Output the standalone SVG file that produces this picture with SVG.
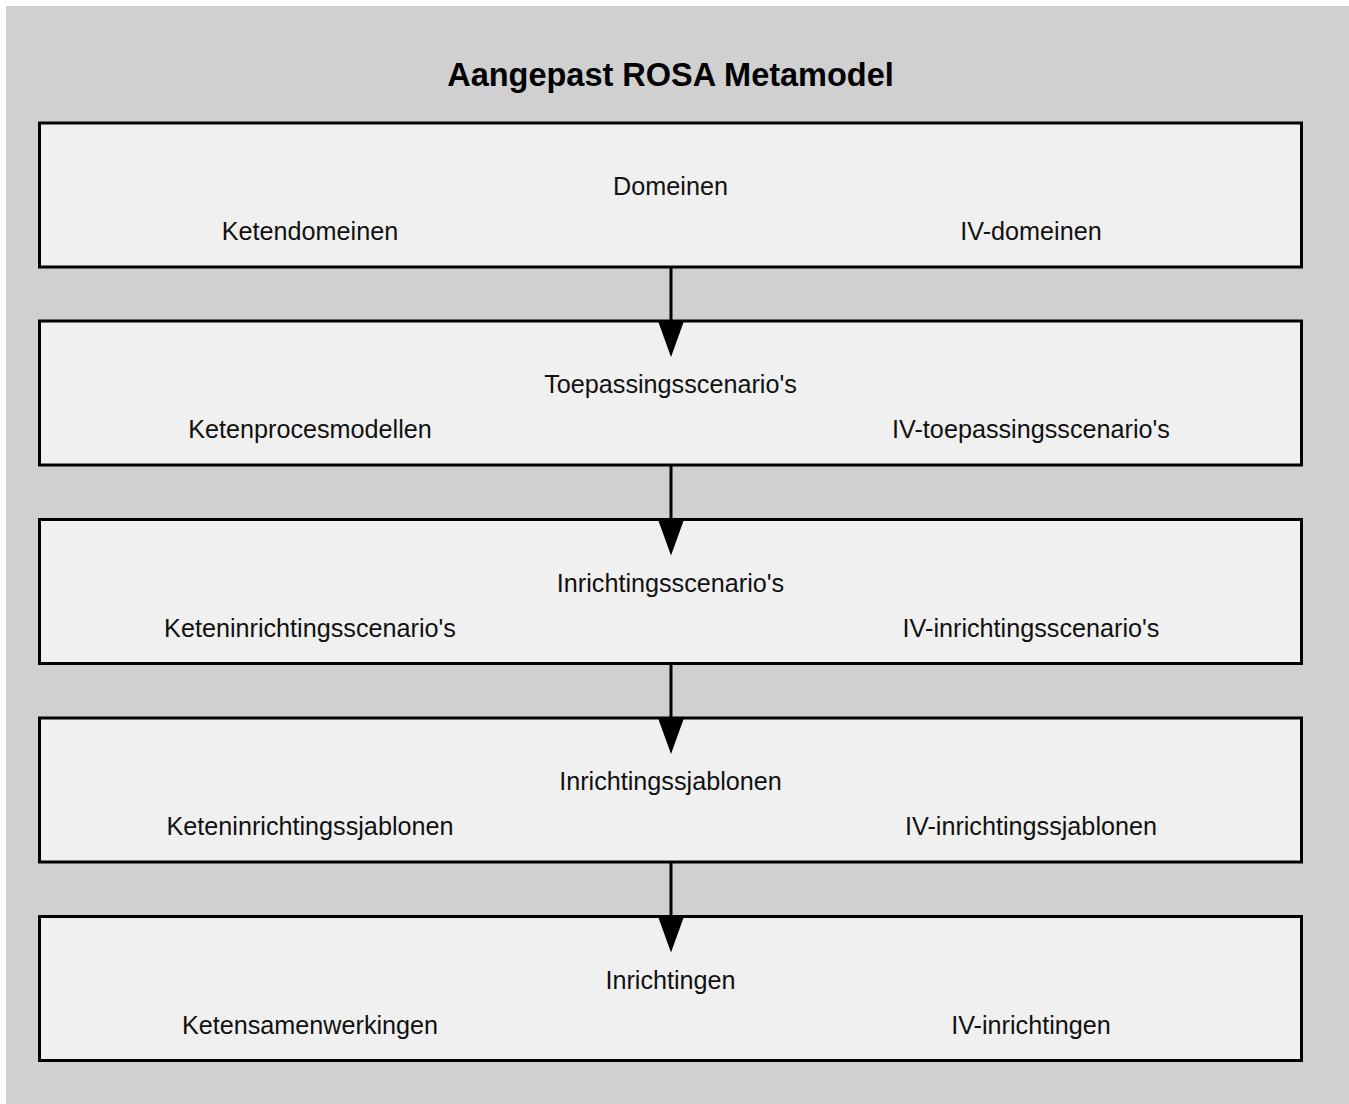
<svg xmlns="http://www.w3.org/2000/svg" width="1349" height="1104" viewBox="0 0 1349 1104">
<style>
.box{fill:#f0f0f0;stroke:#000;stroke-width:3}
.t{font-family:"Liberation Sans",Arial,sans-serif;font-size:25.2px;fill:#111;text-anchor:middle}
.title{font-family:"Liberation Sans",Arial,sans-serif;font-size:32.5px;font-weight:bold;fill:#000;text-anchor:middle}
.conn{stroke:#000;stroke-width:3;fill:none}
</style>
<rect x="0" y="0" width="1349" height="1104" fill="#ffffff"/>
<rect x="6" y="6" width="1343" height="1098" fill="#d0d0d0"/>
<text class="title" x="670.5" y="86">Aangepast ROSA Metamodel</text>
<g id="n1">
<rect class="box" x="39.5" y="123" width="1262" height="144"/>
<text class="t" x="670.5" y="195">Domeinen</text>
<text class="t" x="310" y="240">Ketendomeinen</text>
<text class="t" x="1031" y="240">IV-domeinen</text>
</g>
<g id="n2">
<rect class="box" x="39.5" y="321" width="1262" height="144"/>
<text class="t" x="670.5" y="393">Toepassingsscenario's</text>
<text class="t" x="310" y="438">Ketenprocesmodellen</text>
<text class="t" x="1031" y="438">IV-toepassingsscenario's</text>
</g>
<g id="n3">
<rect class="box" x="39.5" y="519.5" width="1262" height="144"/>
<text class="t" x="670.5" y="591.5">Inrichtingsscenario's</text>
<text class="t" x="310" y="636.5">Keteninrichtingsscenario's</text>
<text class="t" x="1031" y="636.5">IV-inrichtingsscenario's</text>
</g>
<g id="n4">
<rect class="box" x="39.5" y="718" width="1262" height="144"/>
<text class="t" x="670.5" y="790">Inrichtingssjablonen</text>
<text class="t" x="310" y="835">Keteninrichtingssjablonen</text>
<text class="t" x="1031" y="835">IV-inrichtingssjablonen</text>
</g>
<g id="n5">
<rect class="box" x="39.5" y="916.5" width="1262" height="144"/>
<text class="t" x="670.5" y="988.5">Inrichtingen</text>
<text class="t" x="310" y="1033.5">Ketensamenwerkingen</text>
<text class="t" x="1031" y="1033.5">IV-inrichtingen</text>
</g>
<g id="connectors">
<line class="conn" x1="671" y1="267" x2="671" y2="340"/>
<polygon points="658,321 684,321 671,357"/>
<line class="conn" x1="671" y1="465" x2="671" y2="538"/>
<polygon points="658,519.5 684,519.5 671,555.5"/>
<line class="conn" x1="671" y1="663.5" x2="671" y2="737"/>
<polygon points="658,718 684,718 671,754"/>
<line class="conn" x1="671" y1="862" x2="671" y2="935"/>
<polygon points="658,916.5 684,916.5 671,952.5"/>
</g>
</svg>
